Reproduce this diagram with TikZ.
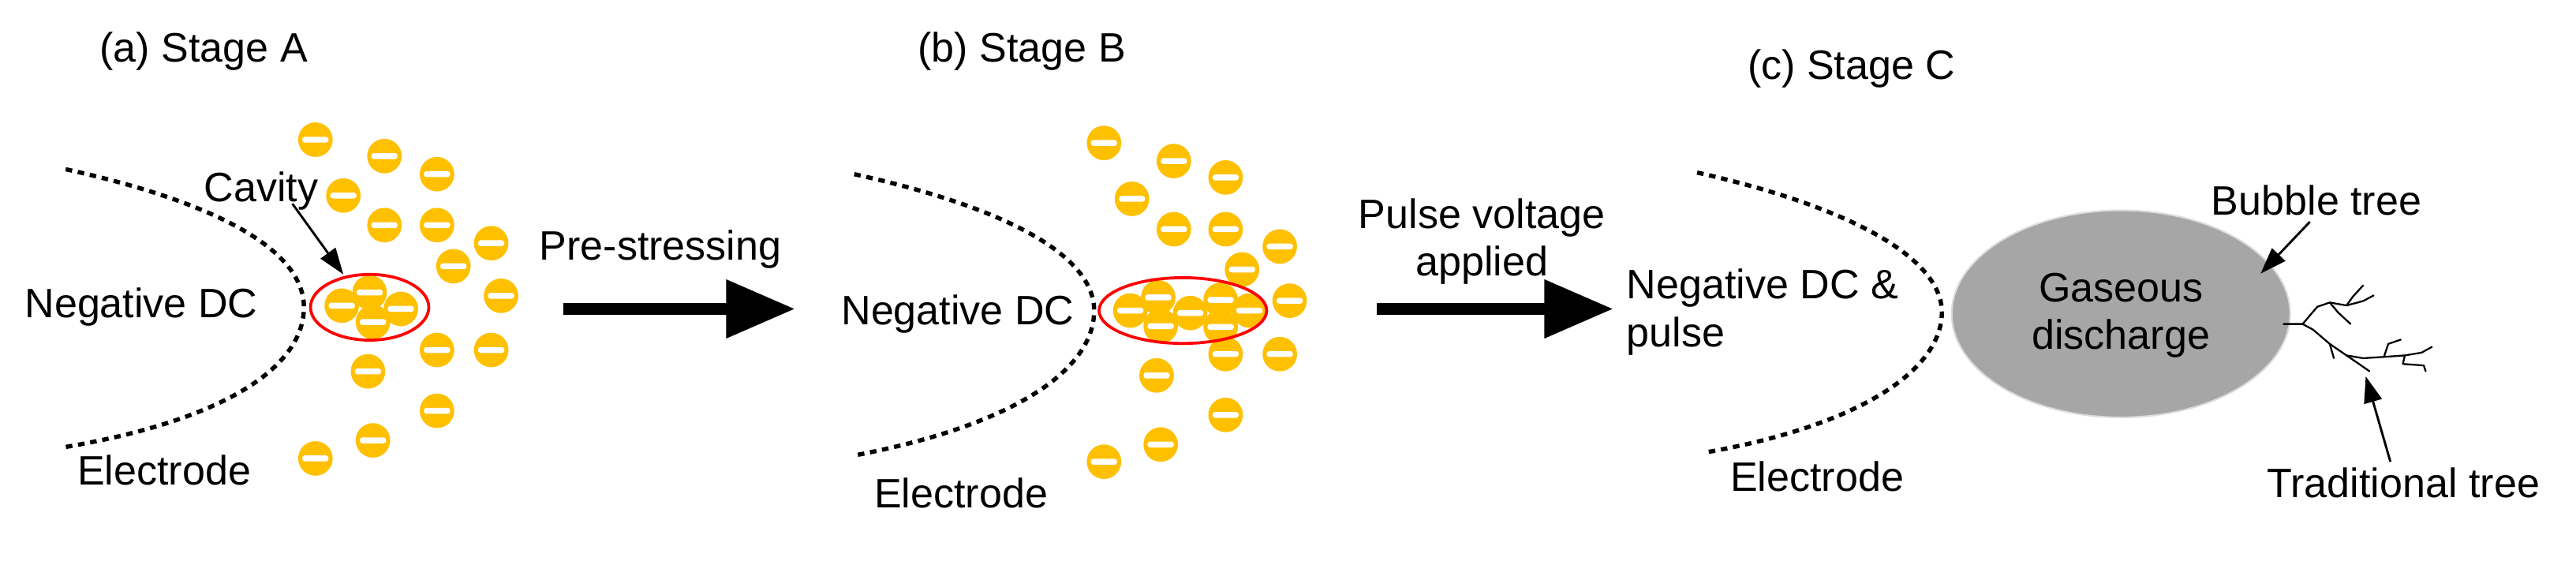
\documentclass[tikz,border=0pt]{standalone}
\usepackage{fontspec}
\setmainfont{Liberation Sans}
\usetikzlibrary{arrows.meta,shapes.geometric}
\definecolor{chg}{HTML}{FFC000}
\definecolor{gas}{HTML}{A6A6A6}
\tikzset{
  txt/.style={font=\fontsize{25}{29}\selectfont, inner sep=0pt, align=center},
  electrode/.style={line width=2.6pt, dash pattern=on 4pt off 3.5pt},
  bigarrow/.style={line width=7pt, -{Triangle[length=42pt,width=34pt]}},
  thin arrow/.style={line width=1.4pt, -{Triangle[length=16pt,width=11pt]}},
  cav/.style={red, line width=1.8pt},
  twig/.style={line width=1.1pt, line cap=round, line join=round},
}
\newcommand{\chargeat}[2]{%
  \fill[chg] (#1,#2) circle (10.5);
  \fill[white, rounded corners=1.6pt] (#1-8,#2-1.8) rectangle (#1+8,#2+1.8);}
\begin{document}
\begin{tikzpicture}[x=1pt,y=-1pt]
\useasboundingbox (0,0) rectangle (1568,343.4);
% titles
\node[txt] (ta) at (124,31) {(a) Stage A};
\node[txt] (tb) at (622,31) {(b) Stage B};
\node[txt] (tc) at (1127,42) {(c) Stage C};
% ---------- Stage A
\draw[electrode] (40,103) .. controls (140,125) and (185,155) .. (185,187) .. controls (185,222) and (140,255) .. (40,272);
\node[txt] (ndca) at (86,187) {Negative DC};
\node[txt] (ela) at (100,286) {Electrode};
\foreach \x/\y in {192/85,234/95,266/106,209/119,234/137,266/137,299/148,276/162,305/180,266/213,299/213,224/226,266/250,227/268,192/279}
  {\chargeat{\x}{\y}}
\foreach \x/\y in {208/186,225/178,244/188,227/196}
  {\chargeat{\x}{\y}}
\draw[cav] (225,187) ellipse (36 and 20);
\node[txt] (cavity) at (159,116) {Cavity};
\coordinate (cavtip) at (209,167);
\draw[thin arrow] (178,124) -- (cavtip);
% arrow 1
\node[txt] (pre) at (402,152) {Pre-stressing};
\coordinate (a1s) at (343,188);
\coordinate (a1e) at (484,188);
\draw[bigarrow] (a1s) -- (a1e);
% ---------- Stage B
\draw[electrode] (520,106) .. controls (620,128) and (666,158) .. (666,189) .. controls (666,224) and (620,258) .. (521,277);
\node[txt] (ndcb) at (583,191) {Negative DC};
\node[txt] (elb) at (585,300) {Electrode};
\foreach \x/\y in {672/87,714.5/98,746/108,689/121,714.5/139.5,746/139.5,779/150,756/164,785/183,746/215.5,779/215.5,704/228.5,746/252.5,706.5/270.5,672/281}
  {\chargeat{\x}{\y}}
\foreach \x/\y in {688/189,705/181,706.5/198.5,724.5/190.5,743/182.5,743/199,760.5/189}
  {\chargeat{\x}{\y}}
\draw[cav] (720,189) ellipse (51 and 20);
% arrow 2
\node[txt] (pulse) at (902,147) {Pulse voltage\\applied};
\coordinate (a2s) at (838,188);
\coordinate (a2e) at (982,188);
\draw[bigarrow] (a2s) -- (a2e);
% ---------- Stage C
\draw[electrode] (1033,105) .. controls (1135,128) and (1182,160) .. (1182,190) .. controls (1182,224) and (1135,258) .. (1040,275);
\node[txt, align=left, anchor=west] (ndcc) at (990,190) {Negative DC \&\\pulse};
\node[txt] (elc) at (1106,290) {Electrode};
\node[ellipse, fill=gas, draw=gas!40, line width=1pt, minimum width=206pt, minimum height=126pt, inner sep=0pt] (bub) at (1291,191) {};
\node[txt] (gas) at (1291,192) {Gaseous\\discharge};
\node[txt] (bt) at (1410,122) {Bubble tree};
\coordinate (bttip) at (1376,166.5);
\draw[thin arrow] (1406,135) -- (bttip);
\node[txt] (tt) at (1463,294) {Traditional tree};
\coordinate (tttip) at (1440,229);
\draw[thin arrow] (1455,281) -- (tttip);
% tree
\begin{scope}[shift={(0,8)}]
\draw[twig] (1390,189.2) -- (1401.6,189.2) -- (1410.5,178.7) -- (1418.1,176.1) -- (1428.3,177.9) -- (1438.4,175.2) -- (1444.8,171.8);
\draw[twig] (1418.1,176.1) -- (1423.2,182.2) -- (1430.8,189.2);
\draw[twig] (1428.3,177.9) -- (1432.1,172.6) -- (1438.4,165.7);
\draw[twig] (1401.6,189.2) -- (1407.9,192.6) -- (1418.1,201.3) -- (1428.3,208.3) -- (1438.4,210) -- (1451.1,209.2) -- (1463.8,208.3) -- (1474,206.6) -- (1480.3,203.1);
\draw[twig] (1418.1,201.3) -- (1420.6,210);
\draw[twig] (1428.3,208.3) -- (1435.9,213.5) -- (1442.2,217.9);
\draw[twig] (1451.1,209.2) -- (1453.7,201.3) -- (1461.3,198.7);
\draw[twig] (1463.8,208.3) -- (1462.6,213.5) -- (1475.3,214.4) -- (1476.5,217.9);
\end{scope}
\end{tikzpicture}
\end{document}
